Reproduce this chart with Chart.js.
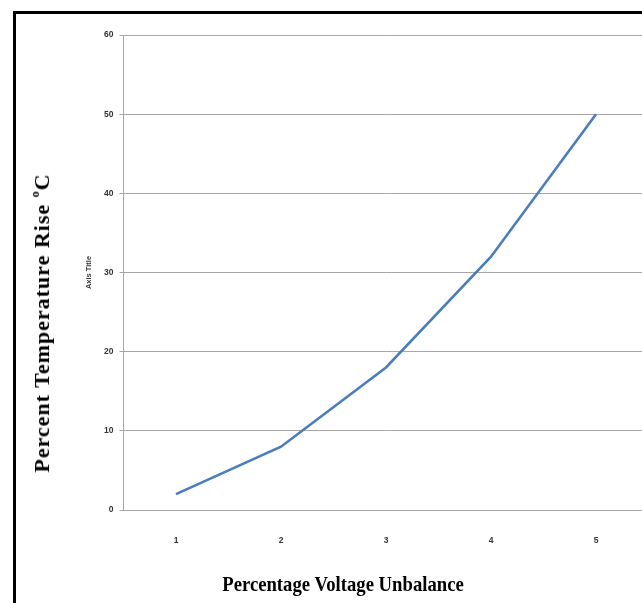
<!DOCTYPE html>
<html>
<head>
<meta charset="utf-8">
<script src="https://cdn.jsdelivr.net/npm/chart.js@4/dist/chart.umd.min.js"></script>
<style>
  html, body { margin: 0; padding: 0; background: #fff; overflow: hidden; width: 642px; height: 603px; }
  #wrap { position: relative; width: 642px; height: 603px; overflow: hidden; }
  #frame { position: absolute; left: 13px; top: 11px; width: 700px; height: 700px;
           border-left: 3px solid #000; border-top: 3px solid #000; box-sizing: border-box; }
  canvas { position: absolute; left: 0; top: 0; }
  .big { position: absolute; font-family: "Liberation Serif", "Times New Roman", serif;
         font-weight: bold; font-size: 21px; color: #000; white-space: nowrap; }
  #ytitle { left: 42px; top: 323px; font-size: 22px; transform: translate(-50%, -50%) rotate(-90deg); letter-spacing: 1px; }
  #ytitle sup { font-size: 12px; position: relative; top: -2px; }
  #xtitle { left: 343px; top: 584px; transform: translate(-50%, -50%) scaleX(0.89); }
</style>
</head>
<body>
<div id="wrap">
  <div id="frame"></div>
  <canvas id="chart" width="660" height="603"></canvas>
  <div class="big" id="ytitle">Percent Temperature Rise <sup>o</sup>C</div>
  <div class="big" id="xtitle">Percentage Voltage Unbalance</div>
</div>
<script>
// Voltage unbalance (%) against temperature rise
const categories = ['1', '2', '3', '4', '5'];
const tempRise = [2, 8, 18, 32, 50];
const yTickValues = [0, 10, 20, 30, 40, 50, 60];

const gridGray = '#a6a6a6';
const tickFont = { family: 'Liberation Sans, Arial, sans-serif', size: 8.5, weight: 'bold' };

new Chart(document.getElementById('chart'), {
  type: 'line',
  data: {
    labels: categories,
    datasets: [{
      data: tempRise,
      borderColor: '#4a7ebb',
      borderWidth: 2.6,
      pointRadius: 0,
      tension: 0,
      fill: false
    }]
  },
  options: {
    responsive: false,
    animation: false,
    events: [],
    layout: { padding: { left: 0, top: 35, right: 11.5, bottom: 0 } },
    plugins: { legend: { display: false }, tooltip: { enabled: false } },
    scales: {
      x: {
        type: 'category',
        offset: true,
        grid: { display: false },
        border: { display: true, color: gridGray, width: 1 },
        ticks: { color: '#333', font: tickFont, padding: 18, maxRotation: 0 },
        afterFit: (scale) => { scale.height = 93; }
      },
      y: {
        min: 0,
        max: 60,
        afterBuildTicks: (scale) => { scale.ticks = yTickValues.map(v => ({ value: v })); },
        grid: { color: gridGray, lineWidth: 1, drawTicks: true, tickLength: 4 },
        border: { display: true, color: gridGray, width: 1 },
        ticks: { color: '#333', font: tickFont, padding: 6 },
        title: {
          display: true,
          text: 'Axis Title',
          color: '#333',
          font: { family: 'Liberation Sans, Arial, sans-serif', size: 7.5, weight: 'bold' },
          padding: { top: 84, bottom: 0 }
        },
        afterFit: (scale) => { scale.width = 123.5; }
      }
    }
  }
});
</script>
</body>
</html>
